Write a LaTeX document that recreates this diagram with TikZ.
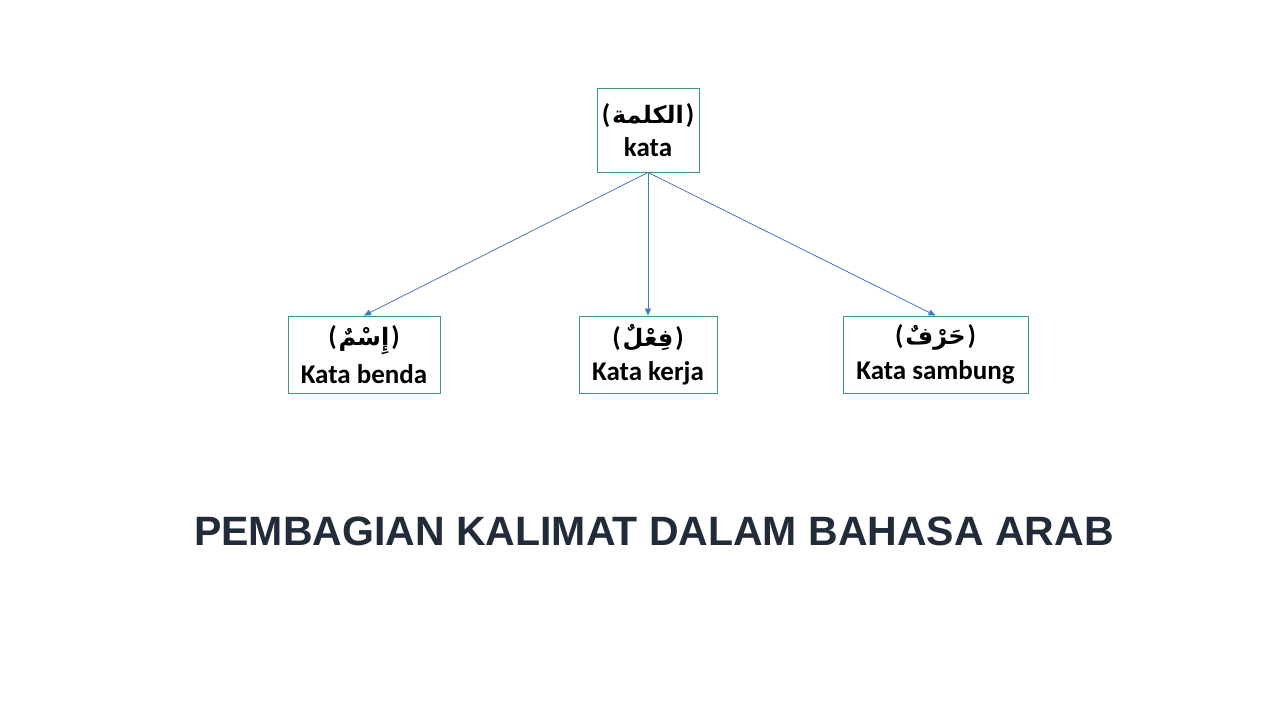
\documentclass[tikz,border=0pt]{standalone}
\usepackage{fontspec}
\setmainfont{Carlito}
\newfontfamily\arabicfont[Script=Arabic]{DejaVu Sans}
\newfontfamily\titlefont{Liberation Sans}
\TeXXeTstate=1
\usetikzlibrary{arrows.meta}
\definecolor{boxgreen}{RGB}{62,152,112}
\definecolor{arrowblue}{RGB}{74,120,190}
\definecolor{titlenavy}{RGB}{33,43,58}
\tikzset{
  wordbox/.style={draw=boxgreen, line width=0.9pt, fill=white, inner sep=0pt, align=center},
  link/.style={draw=arrowblue, line width=0.8pt, -{Triangle[length=7pt,width=6pt]}},
}
\newcommand{\boxtext}[2]{{\bfseries\fontsize{27}{30}\selectfont(}\kern2pt{\arabicfont\bfseries\fontsize{24}{30}\selectfont #1}\kern2pt{\bfseries\fontsize{27}{30}\selectfont)}\\[9pt]{\bfseries\fontsize{27}{30}\selectfont #2}}
\begin{document}
\begin{tikzpicture}[x=1pt,y=-1pt]
\useasboundingbox (0,0) rectangle (1280,720);
\fill[white] (0,0) rectangle (1280,720);
\node[wordbox, minimum width=102pt, minimum height=84pt] (top) at (648,130) {\boxtext{الكلمة}{kata}};
\node[wordbox, minimum width=152pt, minimum height=77pt] (ism) at (364,354.5) {\boxtext{إِسْمٌ}{Kata benda}};
\node[wordbox, minimum width=138pt, minimum height=77pt] (fil) at (648,354.5) {\boxtext{فِعْلٌ}{Kata kerja}};
\node[wordbox, minimum width=185pt, minimum height=77pt] (harf) at (935.5,354.5) {\boxtext{حَرْفٌ}{Kata sambung}};
\draw[link] (top.south) -- (ism.north);
\draw[link] (top.south) -- (fil.north);
\draw[link] (top.south) -- (harf.north);
\node[text=titlenavy, font=\titlefont\bfseries\fontsize{41}{45}\selectfont, anchor=base] (title) at (654,545) {PEMBAGIAN KALIMAT DALAM BAHASA ARAB};
\end{tikzpicture}
\end{document}
